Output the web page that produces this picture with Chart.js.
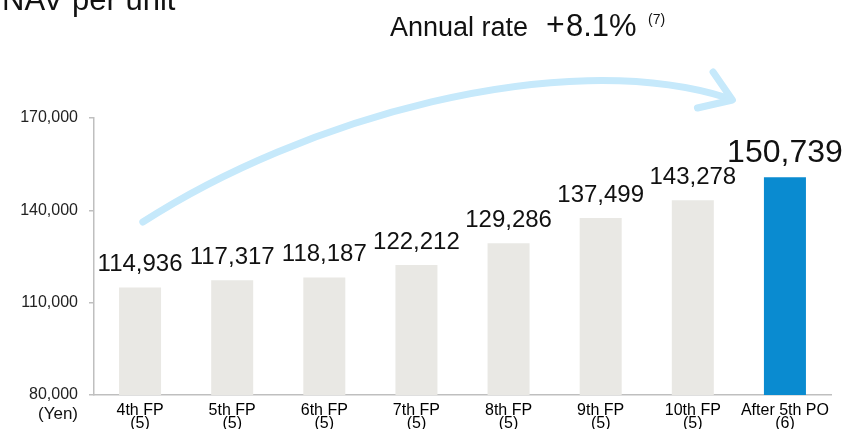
<!DOCTYPE html>
<html lang="en">
<head>
    <meta charset="UTF-8">
    <title>NAV per unit</title>
    <script src="https://cdn.jsdelivr.net/npm/chart.js"></script>
    <style>
        body {
            margin: 0;
            padding: 0;
            background-color: #fff;
        }
        .wrap {
            position: relative;
            width: 845px;
            height: 429px;
        }
    </style>
</head>
<body>
    <div class="wrap">
        <canvas id="navChart" width="845" height="429"></canvas>
    </div>

    <script>
        // chart data
        const periods = [
            ['4th FP', '(5)'], ['5th FP', '(5)'], ['6th FP', '(5)'], ['7th FP', '(5)'],
            ['8th FP', '(5)'], ['9th FP', '(5)'], ['10th FP', '(5)'], ['After 5th PO', '(6)']
        ];
        const navValues = [114936, 117317, 118187, 122212, 129286, 137499, 143278, 150739];
        const yTicks = [80000, 110000, 140000, 170000];

        const FONT = '"Liberation Sans", Arial, sans-serif';
        const barColors = navValues.map((v, i) => i === navValues.length - 1 ? '#0A8BD0' : '#E9E8E4');

        // arrow anchors in (category index, value) units
        const arrowCurve = [[0.03, 136200], [1.74, 169350], [4.56, 193700], [6.38, 176500]];
        const arrowHead = [[6.22, 184940], [6.43, 175850], [6.05, 173240]];

        const fmt = v => v.toLocaleString('en-US');

        const extrasPlugin = {
            id: 'extras',
            afterDatasetsDraw(chart) {
                const ctx = chart.ctx;
                const x = chart.scales.x, y = chart.scales.y;
                const px = p => [x.getPixelForValue(p[0]), y.getPixelForValue(p[1])];

                // curved arrow
                ctx.save();
                ctx.strokeStyle = '#C6E9FB';
                ctx.lineWidth = 7;
                ctx.lineCap = 'round';
                ctx.lineJoin = 'round';
                const c = arrowCurve.map(px);
                ctx.beginPath();
                ctx.moveTo(c[0][0], c[0][1]);
                ctx.bezierCurveTo(c[1][0], c[1][1], c[2][0], c[2][1], c[3][0], c[3][1]);
                ctx.stroke();
                const h = arrowHead.map(px);
                ctx.beginPath();
                ctx.moveTo(h[0][0], h[0][1]);
                ctx.lineTo(h[1][0], h[1][1]);
                ctx.lineTo(h[2][0], h[2][1]);
                ctx.stroke();
                ctx.restore();

                // value labels above bars
                const meta = chart.getDatasetMeta(0);
                ctx.save();
                ctx.fillStyle = '#111';
                ctx.textAlign = 'center';
                ctx.textBaseline = 'alphabetic';
                meta.data.forEach((bar, i) => {
                    const last = i === navValues.length - 1;
                    ctx.font = (last ? '32px ' : '24px ') + FONT;
                    ctx.fillText(fmt(navValues[i]), bar.x, bar.y - (last ? 15 : 16));
                });
                ctx.restore();
            },
            afterDraw(chart) {
                const ctx = chart.ctx;
                const y = chart.scales.y;
                ctx.save();
                ctx.fillStyle = '#111';
                ctx.textBaseline = 'alphabetic';

                // title (partly cut off at the top)
                ctx.font = '31px ' + FONT;
                ctx.fillText('NAV per unit', 2, 10);

                // annual rate note
                const parts = [
                    ['Annual rate', '27px', 390, 36],
                    ['+', '32px', 546, 35],
                    ['8.1', '31px', 566, 36],
                    ['%', '31px', 609, 36],
                    ['(7)', '14px', 648, 24]
                ];
                parts.forEach(p => {
                    ctx.font = p[1] + ' ' + FONT;
                    ctx.fillText(p[0], p[2], p[3]);
                });

                // unit under the lowest tick
                ctx.font = '17px ' + FONT;
                ctx.textAlign = 'right';
                ctx.fillText('(Yen)', 78, y.getPixelForValue(yTicks[0]) + 24);
                ctx.restore();
            }
        };

        new Chart(document.getElementById('navChart').getContext('2d'), {
            type: 'bar',
            data: {
                labels: periods,
                datasets: [{
                    data: navValues,
                    backgroundColor: barColors,
                    categoryPercentage: 1,
                    barPercentage: 0.456
                }]
            },
            options: {
                responsive: false,
                animation: false,
                layout: { padding: { top: 118, right: 14, bottom: 0, left: 0 } },
                plugins: {
                    legend: { display: false },
                    tooltip: { enabled: false }
                },
                scales: {
                    x: {
                        afterFit: s => { s.height = 34; },
                        grid: { display: false, drawTicks: false },
                        border: { display: true, color: '#BFBFBF', width: 1.5 },
                        ticks: {
                            color: '#000',
                            font: { family: FONT, size: 16, lineHeight: 0.8 },
                            padding: 9,
                            maxRotation: 0,
                            autoSkip: false
                        }
                    },
                    y: {
                        min: yTicks[0],
                        max: yTicks[yTicks.length - 1],
                        afterFit: s => { s.width = 94; },
                        afterBuildTicks: s => { s.ticks = yTicks.map(v => ({ value: v })); },
                        grid: { drawOnChartArea: false, drawTicks: true, tickLength: 5, color: '#BFBFBF', lineWidth: 1.5 },
                        border: { display: true, color: '#BFBFBF', width: 1.5 },
                        ticks: {
                            color: '#222',
                            font: { family: FONT, size: 16 },
                            padding: 11,
                            callback: v => fmt(v)
                        }
                    }
                }
            },
            plugins: [extrasPlugin]
        });
    </script>
</body>
</html>
